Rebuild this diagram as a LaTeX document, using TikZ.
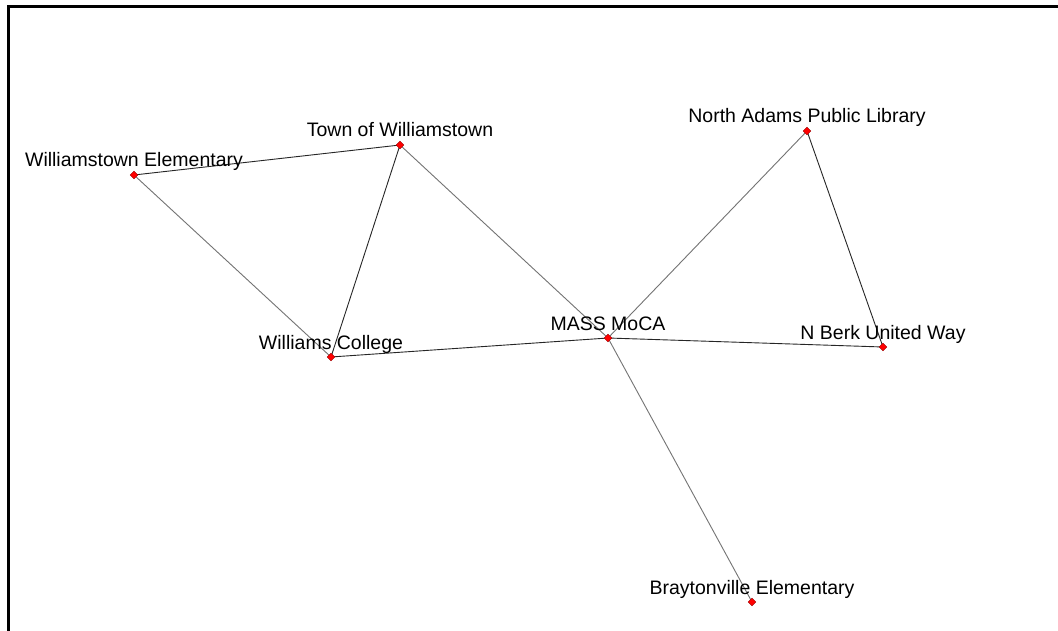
\documentclass[tikz,border=0pt]{standalone}
\usepackage{fontspec}
\setmainfont{Liberation Sans}
\begin{document}
\begin{tikzpicture}[x=1pt,y=-1pt,
  vtx/.style={draw=red!60!black, fill=red, line width=0.3pt, minimum size=5.5pt, inner sep=0pt, shape=rectangle, rotate=45},
  lbl/.style={anchor=base, inner sep=0pt, font=\fontsize{19.5}{23}\selectfont},
  edge/.style={line width=0.9pt, draw=gray!90!black},
  edgek/.style={line width=0.9pt, draw=black!85}]
\useasboundingbox (0,0) rectangle (1058,631);
\fill[white] (0,0) rectangle (1058,631);
\draw[line width=3pt] (8,631) -- (8,7) -- (1058,7);
% vertex coordinates
\coordinate (we) at (134,175);
\coordinate (tw) at (400,145);
\coordinate (na) at (807,131);
\coordinate (wc) at (331,357);
\coordinate (mm) at (608,338);
\coordinate (nb) at (883,347);
\coordinate (be) at (752,602);
% edges
\draw[edgek] (we) -- (tw);
\draw[edge] (we) -- (wc);
\draw[edgek] (tw) -- (wc);
\draw[edge] (tw) -- (mm);
\draw[edgek] (wc) -- (mm);
\draw[edge] (mm) -- (na);
\draw[edgek] (na) -- (nb);
\draw[edgek] (mm) -- (nb);
\draw[edge] (mm) -- (be);
% labels
\node[lbl] (lwe) at ([yshift=8pt]we) {Williamstown Elementary};
\node[lbl] (ltw) at ([yshift=8pt]tw) {Town of Williamstown};
\node[lbl] (lna) at ([yshift=8pt]na) {North Adams Public Library};
\node[lbl] (lwc) at ([yshift=8pt]wc) {Williams College};
\node[lbl] (lmm) at ([yshift=8pt]mm) {MASS MoCA};
\node[lbl] (lnb) at ([yshift=8pt]nb) {N Berk United Way};
\node[lbl] (lbe) at ([yshift=8pt]be) {Braytonville Elementary};
% markers
\foreach \v in {we,tw,na,wc,mm,nb,be} \node[vtx] (m\v) at (\v) {};
\end{tikzpicture}
\end{document}
